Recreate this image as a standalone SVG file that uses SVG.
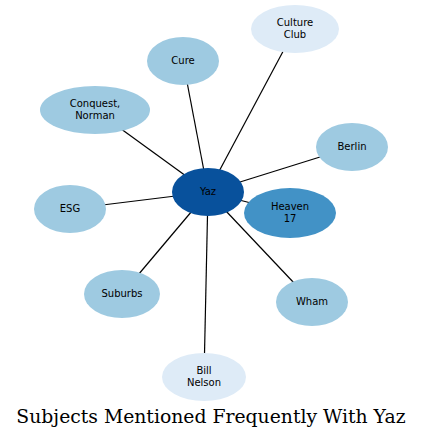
<svg xmlns="http://www.w3.org/2000/svg" width="423" height="438" viewBox="0 0 423 438">
<style>
.n text{font-family:"DejaVu Sans",sans-serif;font-size:10px;text-anchor:middle;fill:#000}
.l1{fill:#deebf7}.l2{fill:#9ecae1}.l3{fill:#4292c6}.l4{fill:#08519c}
#edges line{stroke:#000;stroke-width:1.2}
.title{font-family:"DejaVu Serif",serif;font-size:18.8px;text-anchor:middle}
</style>
<rect width="423" height="438" fill="#fff"/>
<g id="edges">
<line x1="208" y1="192" x2="183" y2="61"/>
<line x1="208" y1="192" x2="295" y2="29"/>
<line x1="208" y1="192" x2="352" y2="147"/>
<line x1="208" y1="192" x2="95" y2="110"/>
<line x1="208" y1="192" x2="70" y2="209"/>
<line x1="208" y1="192" x2="122" y2="294"/>
<line x1="208" y1="192" x2="204" y2="377"/>
<line x1="208" y1="192" x2="312" y2="302"/>
<line x1="208" y1="192" x2="290" y2="213"/>
</g>
<g id="culture" class="n"><ellipse class="l1" cx="295" cy="29" rx="44" ry="24"/><text x="295" y="26">Culture</text><text x="295" y="38">Club</text></g>
<g id="cure" class="n"><ellipse class="l2" cx="183" cy="61" rx="36" ry="24"/><text x="183" y="64">Cure</text></g>
<g id="conquest" class="n"><ellipse class="l2" cx="95" cy="110" rx="55" ry="24"/><text x="95" y="107">Conquest,</text><text x="95" y="119">Norman</text></g>
<g id="berlin" class="n"><ellipse class="l2" cx="352" cy="147" rx="36" ry="24"/><text x="352" y="150">Berlin</text></g>
<g id="esg" class="n"><ellipse class="l2" cx="70" cy="209" rx="36" ry="24"/><text x="70" y="212">ESG</text></g>
<g id="suburbs" class="n"><ellipse class="l2" cx="122" cy="294" rx="38" ry="24"/><text x="122" y="297">Suburbs</text></g>
<g id="wham" class="n"><ellipse class="l2" cx="312" cy="302" rx="36" ry="24"/><text x="312" y="305">Wham</text></g>
<g id="bill" class="n"><ellipse class="l1" cx="204" cy="377" rx="42" ry="24"/><text x="204" y="374">Bill</text><text x="204" y="386">Nelson</text></g>
<g id="heaven" class="n"><ellipse class="l3" cx="290" cy="213" rx="46" ry="25"/><text x="290" y="210">Heaven</text><text x="290" y="222">17</text></g>
<g id="yaz" class="n"><ellipse class="l4" cx="208" cy="192" rx="36" ry="24"/><text x="208" y="195">Yaz</text></g>
<text class="title" x="211" y="423">Subjects Mentioned Frequently With Yaz</text>
</svg>
